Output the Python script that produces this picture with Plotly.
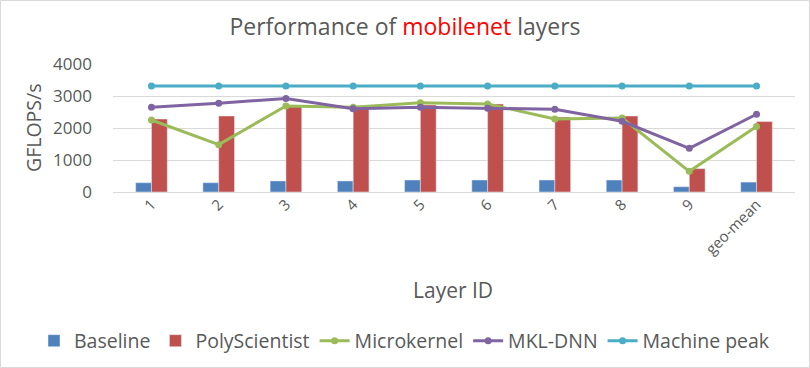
import plotly.graph_objects as go

# data
layers = ["1", "2", "3", "4", "5", "6", "7", "8", "9", "geo-mean"]
baseline = [290, 290, 345, 345, 375, 375, 375, 375, 165, 310]
polyscientist = [2280, 2375, 2670, 2590, 2720, 2750, 2340, 2375, 730, 2200]
microkernel = [2250, 1480, 2690, 2650, 2790, 2750, 2280, 2310, 645, 2050]
mkl_dnn = [2645, 2770, 2925, 2600, 2645, 2615, 2585, 2210, 1365, 2430]
machine_peak = [3310] * len(layers)

FONT = "'Open Sans', Lato, sans-serif"
TEXT = "#595959"
GRID = "#D9D9D9"

fig = go.Figure()

fig.add_trace(go.Bar(x=layers, y=baseline, name="Baseline", marker_color="#4F81BD"))
fig.add_trace(go.Bar(x=layers, y=polyscientist, name="PolyScientist", marker_color="#C0504D"))

for name, values, color in [
    ("Microkernel", microkernel, "#9BBB59"),
    ("MKL-DNN", mkl_dnn, "#8064A2"),
    ("Machine peak", machine_peak, "#4BACC6"),
]:
    fig.add_trace(
        go.Scatter(
            x=layers,
            y=values,
            name=name,
            mode="lines+markers",
            line=dict(color=color, width=3),
            marker=dict(color=color, size=7),
        )
    )

fig.update_layout(
    width=810,
    height=368,
    margin=dict(l=113, r=15, t=64, b=176, autoexpand=False),
    paper_bgcolor="white",
    plot_bgcolor="white",
    font=dict(family=FONT, color=TEXT),
    barmode="group",
    bargap=0.53,
    bargroupgap=0,
    title=dict(
        text="Performance of <span style='color:#FF0000'>mobilenet</span> layers",
        x=0.5,
        xanchor="center",
        y=1 - 27 / 368,
        yanchor="middle",
        font=dict(size=23, color=TEXT, family=FONT),
    ),
    # left of the plot area and below it, so the legend may use the full width
    legend=dict(
        orientation="h",
        x=(34 - 113) / 682,
        xanchor="left",
        y=(192 - 341) / 128,
        yanchor="middle",
        font=dict(size=19.5, color=TEXT),
        itemwidth=30,
        tracegroupgap=0,
    ),
    showlegend=True,
)

fig.update_xaxes(
    tickangle=-45,
    tickfont=dict(size=15, color=TEXT),
    showgrid=False,
    showline=False,
    ticks="",
)
fig.update_yaxes(
    range=[0, 4000],
    dtick=1000,
    tickfont=dict(size=17, color=TEXT),
    gridcolor=GRID,
    gridwidth=1,
    zeroline=True,
    zerolinecolor=GRID,
    zerolinewidth=1,
    showline=False,
    ticks="",
    ticklabelstandoff=20,
)

# axis titles
fig.add_annotation(
    text="GFLOPS/s", xref="paper", yref="paper",
    x=(33 - 113) / 682, y=0.5, xanchor="center", yanchor="middle",
    textangle=-90, showarrow=False, font=dict(size=19.5, color=TEXT),
)
fig.add_annotation(
    text="Layer ID", xref="paper", yref="paper",
    x=(453 - 113) / 682, y=(192 - 290) / 128, xanchor="center", yanchor="middle",
    showarrow=False, font=dict(size=21, color=TEXT),
)

# chart border
fig.add_shape(
    type="rect", xref="paper", yref="paper",
    x0=(0.5 - 113) / 682, x1=(809.5 - 113) / 682,
    y0=(192 - 367.5) / 128, y1=(192 - 0.5) / 128,
    line=dict(color=GRID, width=1),
)

fig.write_html(
    "out.html",
    config={"displayModeBar": False},
    post_script="document.body.style.margin = '0';",
)
